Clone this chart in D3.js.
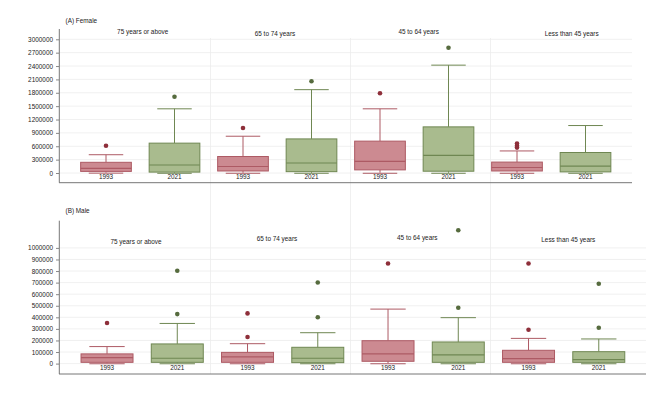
<!DOCTYPE html>
<html><head><meta charset="utf-8">
<script src="https://cdn.jsdelivr.net/npm/d3@7"></script>
<style>body{margin:0;background:#fff}svg{display:block;font-family:"Liberation Sans",Arial,sans-serif}</style>
</head><body><svg id="c" width="666" height="400"></svg>
<script>
const categories = ["75 years or above","65 to 74 years","45 to 64 years","Less than 45 years"];
const years = ["1993","2021"];
// box order: for each category, 1993 then 2021
const femaleMin    = [8000, 5000, 5000, 5000, 5000, 5000, 5000, 5000];
const femaleQ1     = [36000, 20000, 45000, 30000, 70000, 40000, 45000, 25000];
const femaleMedian = [103000, 180000, 145000, 225000, 260000, 395000, 125000, 155000];
const femaleQ3     = [240000, 670000, 370000, 765000, 715000, 1035000, 245000, 460000];
const femaleMax    = [410000, 1440000, 825000, 1870000, 1440000, 2420000, 495000, 1065000];
const femaleOutliers = [[610000],[1710000],[1010000],[2060000],[1790000],[2810000],[570000,610000,660000],[]];
const femaleTicks = [0,300000,600000,900000,1200000,1500000,1800000,2100000,2400000,2700000,3000000];

const maleMin    = [3000, 3000, 3000, 3000, 3000, 3000, 3000, 3000];
const maleQ1     = [11000, 11000, 11000, 8000, 20000, 11000, 11000, 11000];
const maleMedian = [52000, 46000, 58000, 46000, 84000, 75000, 43000, 34000];
const maleQ3     = [84000, 170000, 97000, 141000, 198000, 187000, 115000, 103000];
const maleMax    = [147000, 347000, 172000, 267000, 471000, 397000, 218000, 213000];
const maleOutliers = [[351000],[428000,802000],[230000,434000],[401000,701000],[865000],[483000,1153000],[293000,865000],[310000,690000]];
const maleTicks = [0,100000,200000,300000,400000,500000,600000,700000,800000,900000,1000000];

const panelTitles = ["(A) Female","(B) Male"];

const colors = {
  "1993": {fill:"#cc8a91", stroke:"#ad5a64", dot:"#8e2f3a"},
  "2021": {fill:"#a9bb8e", stroke:"#6f8752", dot:"#566b3e"}
};
const FS = 6.4;
const svg = d3.select("#c");

const keys = [];
categories.forEach(c => years.forEach(y => keys.push(c+"|"+y)));

// dividers between age groups (shared across panels)
const facetX = d3.scaleBand(categories, [70.5, 630.5]);
svg.append("g").selectAll("line").data(categories.slice(1)).join("line")
  .attr("x1", d=>facetX(d)).attr("x2", d=>facetX(d))
  .attr("y1", 38).attr("y2", 374)
  .attr("stroke","#ececec").attr("stroke-width",0.8);

function panel(cfg){
  const g = svg.append("g");
  const y = d3.scaleLinear().domain([0, cfg.ticks[cfg.ticks.length-1]]).range(cfg.yRange);
  const x = d3.scaleBand(keys, cfg.xRange).paddingInner(0.26).paddingOuter(0.13);
  const bw = x.bandwidth();
  // gridlines
  g.append("g").selectAll("line").data(cfg.ticks).join("line")
    .attr("x1", 59).attr("x2", cfg.xEnd)
    .attr("y1", d=>y(d)).attr("y2", d=>y(d))
    .attr("stroke","#ececec").attr("stroke-width",0.8);
  // y axis
  const ax = g.append("g").attr("transform","translate(59,0)")
    .call(d3.axisLeft(y).tickValues(cfg.ticks).tickFormat(d3.format("d")).tickSize(3).tickSizeOuter(0).tickPadding(3));
  ax.select(".domain").remove();
  ax.selectAll("line").attr("stroke","#555").attr("stroke-width",0.7);
  ax.selectAll("text").attr("font-size",FS).attr("fill","#222").attr("font-family","Liberation Sans, Arial, sans-serif");
  // axis lines
  g.append("line").attr("x1",59.3).attr("x2",59.3).attr("y1",cfg.axisTop).attr("y2",cfg.axisBottom)
    .attr("stroke","#777").attr("stroke-width",1);
  g.append("line").attr("x1",59).attr("x2",cfg.xEnd).attr("y1",cfg.axisBottom).attr("y2",cfg.axisBottom)
    .attr("stroke","#777").attr("stroke-width",1);
  // panel title
  g.append("text").attr("x",65.5).attr("y",cfg.titleY).attr("font-size",FS).attr("fill","#222").text(cfg.title);
  // facet titles
  g.append("g").selectAll("text").data(categories).join("text")
    .attr("x", (d,i)=>cfg.facetXPos[i]).attr("y", (d,i)=>cfg.facetY[i])
    .attr("text-anchor","middle").attr("font-size",FS).attr("fill","#222").text(d=>d);
  // boxes
  const boxes = keys.map((k,i)=>({k, yr:k.split("|")[1], min:cfg.min[i], q1:cfg.q1[i], med:cfg.med[i], q3:cfg.q3[i], max:cfg.max[i], out:cfg.out[i]}));
  const capW = bw*0.68;
  const bg = g.append("g").selectAll("g").data(boxes).join("g");
  bg.each(function(d){
    const s = d3.select(this), c = colors[d.yr];
    const cx = x(d.k)+bw/2;
    s.append("line").attr("x1",cx).attr("x2",cx).attr("y1",y(d.q3)).attr("y2",y(d.max)).attr("stroke",c.stroke).attr("stroke-width",1);
    s.append("line").attr("x1",cx).attr("x2",cx).attr("y1",y(d.q1)).attr("y2",y(d.min)).attr("stroke",c.stroke).attr("stroke-width",1);
    s.append("line").attr("x1",cx-capW/2).attr("x2",cx+capW/2).attr("y1",y(d.max)).attr("y2",y(d.max)).attr("stroke",c.stroke).attr("stroke-width",1);
    s.append("line").attr("x1",cx-capW/2).attr("x2",cx+capW/2).attr("y1",y(d.min)+0.5).attr("y2",y(d.min)+0.5).attr("stroke",c.stroke).attr("stroke-width",1);
    s.append("rect").attr("x",x(d.k)).attr("width",bw).attr("y",y(d.q3)).attr("height",y(d.q1)-y(d.q3))
      .attr("fill",c.fill).attr("stroke",c.stroke).attr("stroke-width",1);
    s.append("line").attr("x1",x(d.k)).attr("x2",x(d.k)+bw).attr("y1",y(d.med)).attr("y2",y(d.med)).attr("stroke",c.stroke).attr("stroke-width",1.1);
    s.selectAll("circle").data(d.out).join("circle").attr("cx",cx).attr("cy",v=>y(v)).attr("r",2.3).attr("fill",c.dot);
    s.append("text").attr("x",cx).attr("y",y(0)+6.2).attr("text-anchor","middle").attr("font-size",FS).attr("fill","#222").text(d.yr);
  });
}

panel({title:panelTitles[0], titleY:22.8, facetXPos:[142.7,275,418.7,571.7], facetY:[34.2,36,34.2,35.8], ticks:femaleTicks, yRange:[173,39.3],
  xRange:[71.75,619.75], xEnd:632, axisTop:29, axisBottom:182.7,
  min:femaleMin, q1:femaleQ1, med:femaleMedian, q3:femaleQ3, max:femaleMax, out:femaleOutliers});
panel({title:panelTitles[1], titleY:212.8, facetXPos:[136,277,417.3,568.3], facetY:[243.8,240.5,239.6,242.2], ticks:maleTicks, yRange:[363.6,247.9],
  xRange:[71.9,633.9], xEnd:646, axisTop:220.7, axisBottom:374,
  min:maleMin, q1:maleQ1, med:maleMedian, q3:maleQ3, max:maleMax, out:maleOutliers});
</script></body></html>
